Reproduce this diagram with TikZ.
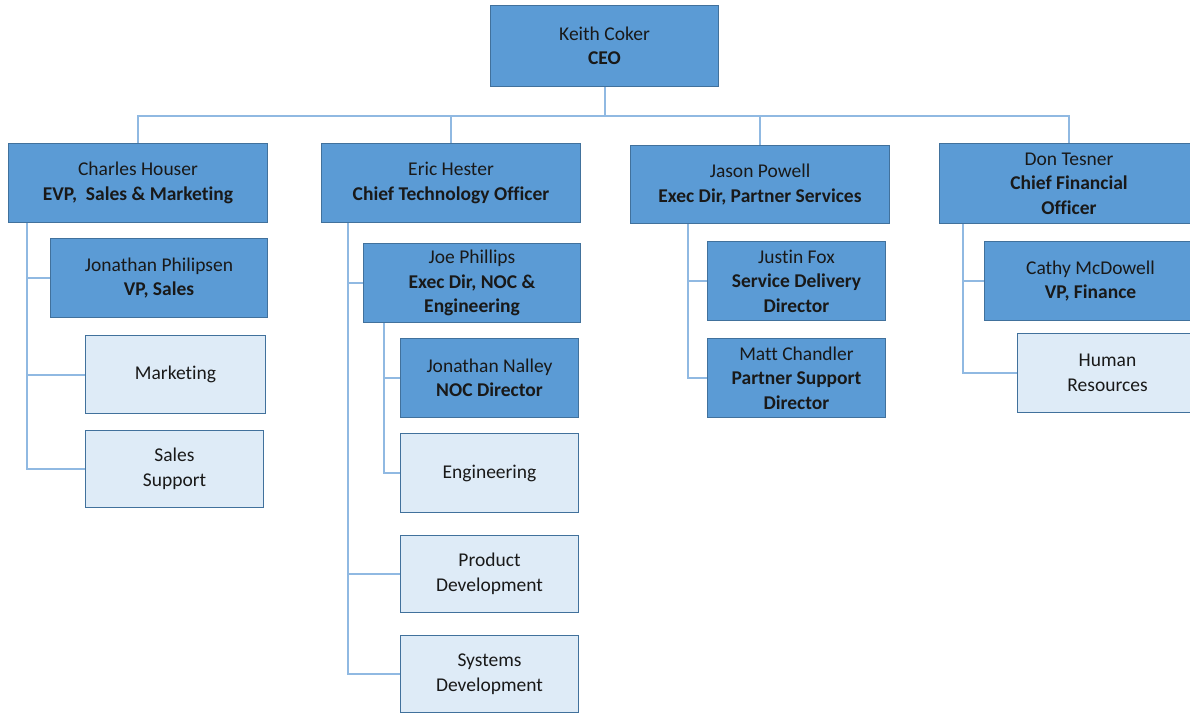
\documentclass[tikz,border=0pt]{standalone}
\usepackage{fontspec}
\setmainfont{Carlito}[Ligatures=NoCommon]
\begin{document}
\begin{tikzpicture}[x=1pt,y=-1pt,
  dark/.style={draw=bordc, fill=darkc, line width=1pt, align=center, inner sep=0pt, anchor=north west, font=\fontsize{19.5}{24.5}\selectfont, text=black!90},
  light/.style={dark, fill=lightc},
  conn/.style={draw=connc, line width=2pt}]
\definecolor{darkc}{HTML}{5B9BD5}
\definecolor{lightc}{HTML}{DEEBF7}
\definecolor{bordc}{HTML}{41719C}
\definecolor{connc}{HTML}{90B9E2}
\useasboundingbox (0,0) rectangle (1190,712);
\fill[white] (0,0) rectangle (1190,712);
% level 0
\node[dark, minimum width=228, minimum height=81] (ceo) at (490,5) {Keith Coker\\\textbf{CEO}};
% level 1
\node[dark, minimum width=259, minimum height=79] (ch) at (8,143) {Charles Houser\\\textbf{EVP,\ \ Sales \& Marketing}};
\node[dark, minimum width=259, minimum height=79] (eh) at (321,143) {Eric Hester\\\textbf{Chief Technology Officer}};
\node[dark, minimum width=259, minimum height=78] (jpw) at (630,145) {Jason Powell\\\textbf{Exec Dir, Partner Services}};
\node[dark, minimum width=259, minimum height=80] (dt) at (939,143) {Don Tesner\\\textbf{Chief Financial}\\\textbf{Officer}};
% Charles branch
\node[dark, minimum width=217, minimum height=79] (jph) at (50,238) {Jonathan Philipsen\\\textbf{VP, Sales}};
\node[light, minimum width=180, minimum height=78] (mkt) at (85,335) {Marketing};
\node[light, minimum width=178, minimum height=77] (ss) at (85,430) {Sales\\Support};
% Eric branch
\node[dark, minimum width=217, minimum height=79] (jo) at (363,243) {Joe Phillips\\\textbf{Exec Dir, NOC \&}\\\textbf{Engineering}};
\node[dark, minimum width=178, minimum height=79] (jn) at (400,338) {Jonathan Nalley\\\textbf{NOC Director}};
\node[light, minimum width=178, minimum height=79] (eng) at (400,433) {Engineering};
\node[light, minimum width=178, minimum height=77] (pd) at (400,535) {Product\\Development};
\node[light, minimum width=178, minimum height=77] (sd) at (400,635) {Systems\\Development};
% Jason branch
\node[dark, minimum width=178, minimum height=79] (jf) at (707,241) {Justin Fox\\\textbf{Service Delivery}\\\textbf{Director}};
\node[dark, minimum width=178, minimum height=79] (mc) at (707,338) {Matt Chandler\\\textbf{Partner Support}\\\textbf{Director}};
% Don branch
\node[dark, minimum width=212, minimum height=79] (cm) at (984,241) {Cathy McDowell\\\textbf{VP, Finance}};
\node[light, minimum width=180, minimum height=79] (hr) at (1017,333) {Human\\Resources};
% connectors
\coordinate (bus) at (0,116);
\draw[conn] (ceo.south) -- (ceo.south |- bus);
\draw[conn] (ceo.south |- bus) -| (ch.north);
\draw[conn] (ceo.south |- bus) -| (eh.north);
\draw[conn] (ceo.south |- bus) -| (jpw.north);
\draw[conn] (ceo.south |- bus) -| (dt.north);
\draw[conn] ([xshift=19pt]ch.south west) |- (jph.west);
\draw[conn] ([xshift=19pt]ch.south west) |- (mkt.west);
\draw[conn] ([xshift=19pt]ch.south west) |- (ss.west);
\draw[conn] ([xshift=27pt]eh.south west) |- (jo.west);
\draw[conn] ([xshift=27pt]eh.south west) |- (pd.west);
\draw[conn] ([xshift=27pt]eh.south west) |- (sd.west);
\draw[conn] ([xshift=21pt]jo.south west) |- (jn.west);
\draw[conn] ([xshift=21pt]jo.south west) |- (eng.west);
\draw[conn] ([xshift=58pt]jpw.south west) |- (jf.west);
\draw[conn] ([xshift=58pt]jpw.south west) |- (mc.west);
\draw[conn] ([xshift=24pt]dt.south west) |- (cm.west);
\draw[conn] ([xshift=24pt]dt.south west) |- (hr.west);
\end{tikzpicture}
\end{document}
